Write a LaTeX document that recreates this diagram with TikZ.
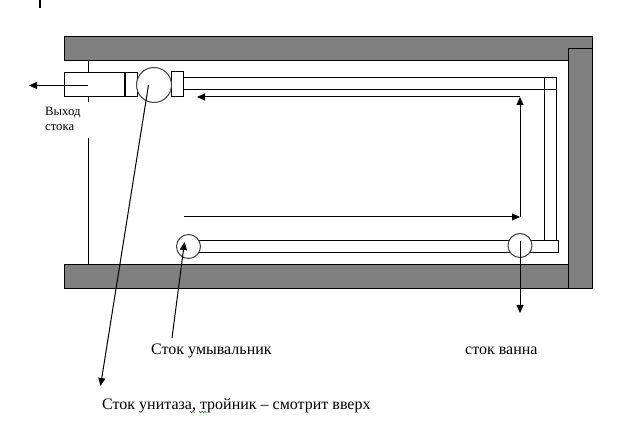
\documentclass[tikz,border=0pt]{standalone}
\usepackage{fontspec}
\setmainfont{Liberation Serif}
\usetikzlibrary{arrows.meta}
\tikzset{
    wall/.style={draw=black, fill=black!50, line width=1pt},
    pipe/.style={draw=black, fill=white, line width=1pt},
    drain/.style={draw=black!75, fill=white, circle, inner sep=0pt, minimum size=24pt, line width=1pt},
    flow/.style={line width=1pt, -{Triangle[width=7pt,length=8pt]}},
    line/.style={line width=1pt},
    label/.style={inner sep=0pt, anchor=west, font=\fontsize{16}{18}\selectfont},
    squiggle/.style={draw=green!50!black, line width=0.5pt}
}
\begin{document}
\begin{tikzpicture}[x=1pt, y=-1pt]
                \useasboundingbox (0,-1) rectangle (622,442);

                % walls
                \draw[wall] (64,36) rectangle (592,60);
                \draw[wall] (64,264) rectangle (568,288);
                \draw[wall] (568,48) rectangle (592,288);

                % door line
                \draw[line] (88,60) -- (88,101);
                \draw[line] (88,137) -- (88,264);
                \draw[line width=2pt] (40,-1) -- (40,7);

                % pipes
                \draw[pipe] (544,77) rectangle (556,240);
                \draw[pipe] (183,77) rectangle (556,89);
                \draw[line] (544,77) -- (544,89);
                \draw[pipe] (190,240) rectangle (558,252);
                \draw[line] (544,89) -- (544,240);

                % exit fitting
                \draw[pipe] (64,72) rectangle (125,96);
                \draw[pipe] (125,72) rectangle (137,96);
                \draw[line width=2pt] (125,72) -- (125,96);
                \draw[pipe] (171,71) rectangle (183,96);

                \node[drain, minimum size=35pt] (T) at (154,84) {};
                \node[drain] (S) at (188.5,245.5) {};
                \node[drain] (B) at (520,244.5) {};

                \coordinate (exitA) at (88,84.5);
                \coordinate (exitB) at (29,84.5);
                \coordinate (startA) at (184,216);
                \coordinate (cornerA) at (520,216);
                \coordinate (cornerB) at (520,96);
                \coordinate (endA) at (197,96);
                \coordinate (bathStart) at (520,240);
                \coordinate (bathEnd) at (520,312);
                \coordinate (sinkStart) at (172,337);
                \coordinate (sinkEnd) at (184.5,241);
                \coordinate (toiletStart) at (148.5,84);
                \coordinate (toiletEnd) at (100.5,385);

                \draw[flow] (exitA) -- (exitB);
                \draw[flow] (startA) -- (cornerA);
                \draw[flow] (cornerA) -- (cornerB);
                \draw[flow] (cornerB) -- (endA);
                \draw[flow] (bathStart) -- (bathEnd);
                \draw[flow] (sinkStart) -- (sinkEnd);
                \draw[flow] (toiletStart) -- (toiletEnd);

                % labels
                \node[label, font=\fontsize{12.7}{15}\selectfont, align=left] (exitL) at (45,118) {Выход\\стока};
                \node[label] (sinkL) at (151,349.5) {Сток умывальник};
                \node[label] (bathL) at (465,349.5) {сток ванна};
                \node[label] (toiletL) at (102,404.5) {Сток унитаза, тройник – смотрит вверх};

                % spelling marks
                \draw[squiggle] (190,410) -- (191.5,412) -- (193,410) -- (194.5,412);
                \draw[squiggle] (199,410) -- (200.5,412) -- (202,410) -- (203.5,412) -- (205,410) -- (206.5,412);
            \end{tikzpicture}
\end{document}
